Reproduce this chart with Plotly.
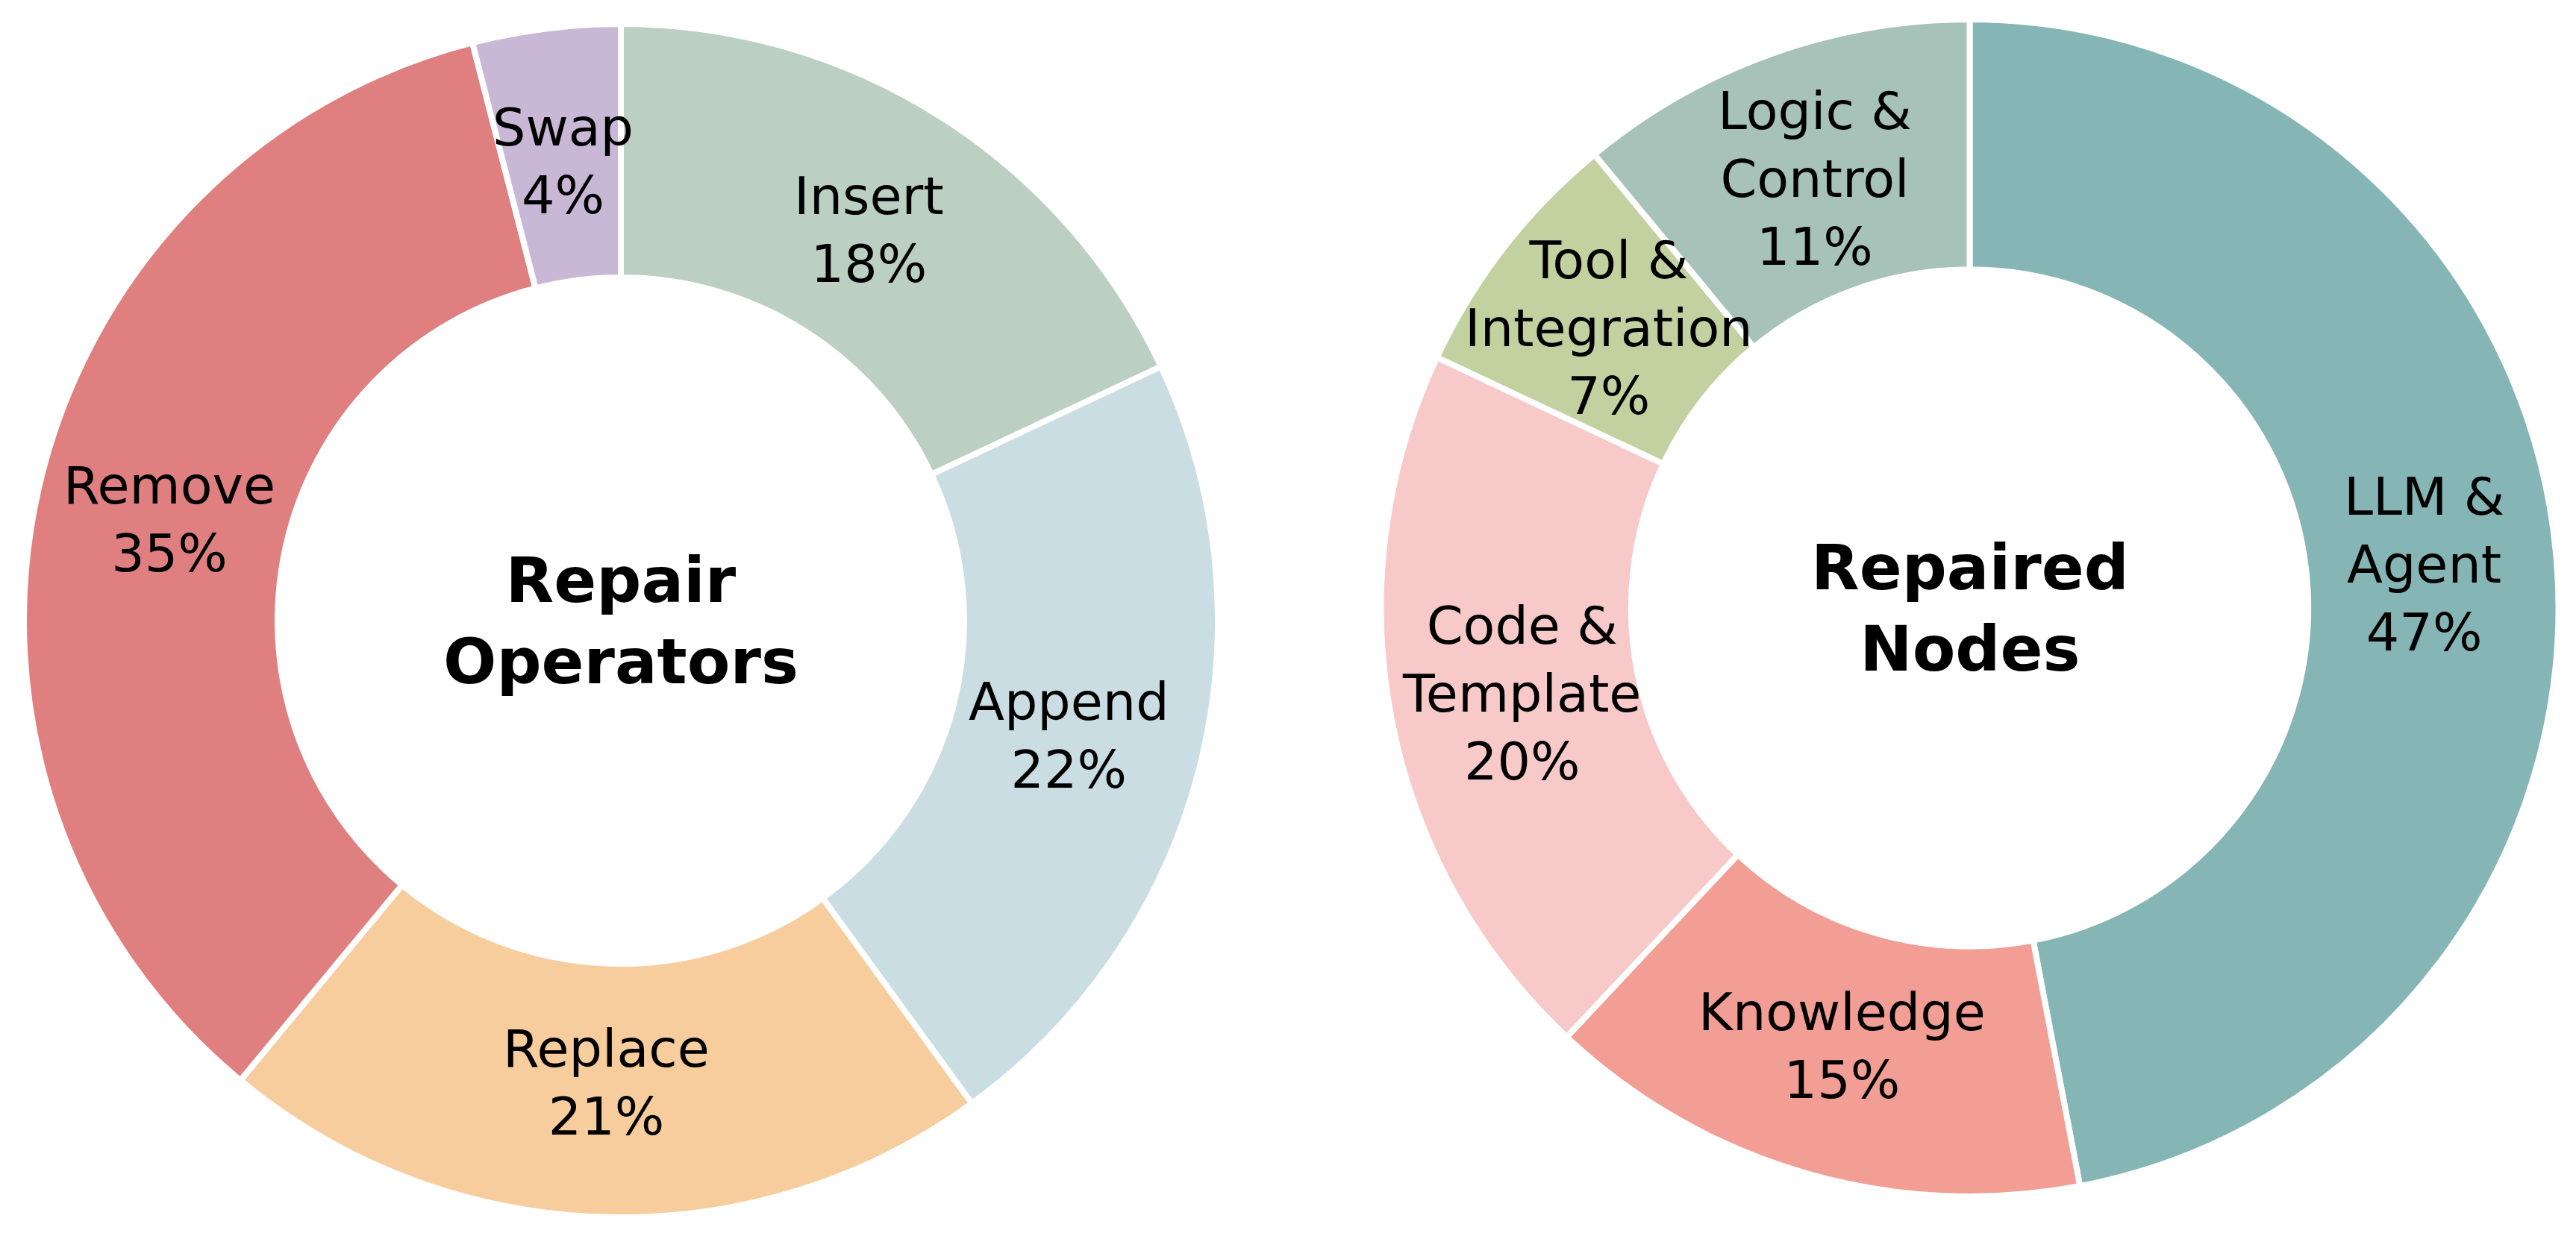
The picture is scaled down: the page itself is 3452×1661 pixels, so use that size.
import math
import plotly.graph_objects as go

W, H = 3452, 1661

# ---- data ----
ops_labels = ["Insert", "Append", "Replace", "Remove", "Swap"]
ops_values = [18, 22, 21, 35, 4]
ops_colors = ["#BBCFC2", "#C9DDE3", "#F8CD9E", "#E07F7F", "#C8B8D5"]
ops_title = "Repair<br>Operators"

node_labels = ["LLM &<br>Agent", "Knowledge", "Code &<br>Template", "Tool &<br>Integration", "Logic &<br>Control"]
node_values = [47, 15, 20, 7, 11]
node_colors = ["#85B5B5", "#F29E94", "#F7CAC9", "#C3D1A0", "#A7C2B9"]
node_title = "Repaired<br>Nodes"

FONT = "DejaVu Sans"
HOLE = 0.575

# pie placement (pixel centre and radius)
pies = [
    dict(labels=ops_labels, values=ops_values, colors=ops_colors, title=ops_title, cx=832, cy=832, r=800),
    dict(labels=node_labels, values=node_values, colors=node_colors, title=node_title, cx=2639.5, cy=815, r=789),
]

fig = go.Figure()
annotations = []
for p in pies:
    cx, cy, r = p["cx"], p["cy"], p["r"]
    dom_x = [(cx - r) / W, (cx + r) / W]
    dom_y = [1 - (cy + r) / H, 1 - (cy - r) / H]
    fig.add_trace(go.Pie(
        labels=[l.replace("<br>", " ") for l in p["labels"]],
        values=p["values"],
        sort=False,
        direction="clockwise",
        rotation=0,
        hole=HOLE,
        textinfo="none",
        hoverinfo="skip",
        marker=dict(colors=p["colors"], line=dict(color="white", width=8)),
        domain=dict(x=dom_x, y=dom_y),
        showlegend=False,
    ))
    total = sum(p["values"])
    cum = 0
    rr = r * 0.775
    for lab, v in zip(p["labels"], p["values"]):
        mid = (cum + v / 2) / total * 2 * math.pi
        cum += v
        px = cx + rr * math.sin(mid)
        py = cy - rr * math.cos(mid)
        annotations.append(dict(
            x=px / W, y=1 - py / H, xref="paper", yref="paper",
            text=f"{lab}<br>{round(v / total * 100)}%",
            showarrow=False, xanchor="center", yanchor="middle",
            font=dict(family=FONT, size=70, color="black"),
        ))
    annotations.append(dict(
        x=cx / W, y=1 - cy / H, xref="paper", yref="paper",
        text=f"<b>{p['title']}</b>", showarrow=False,
        xanchor="center", yanchor="middle",
        font=dict(family=FONT, size=84, color="black"),
    ))

fig.update_layout(
    width=W, height=H,
    margin=dict(l=0, r=0, t=0, b=0),
    paper_bgcolor="white", plot_bgcolor="white",
    annotations=annotations,
)
fig.write_html("out.html")
